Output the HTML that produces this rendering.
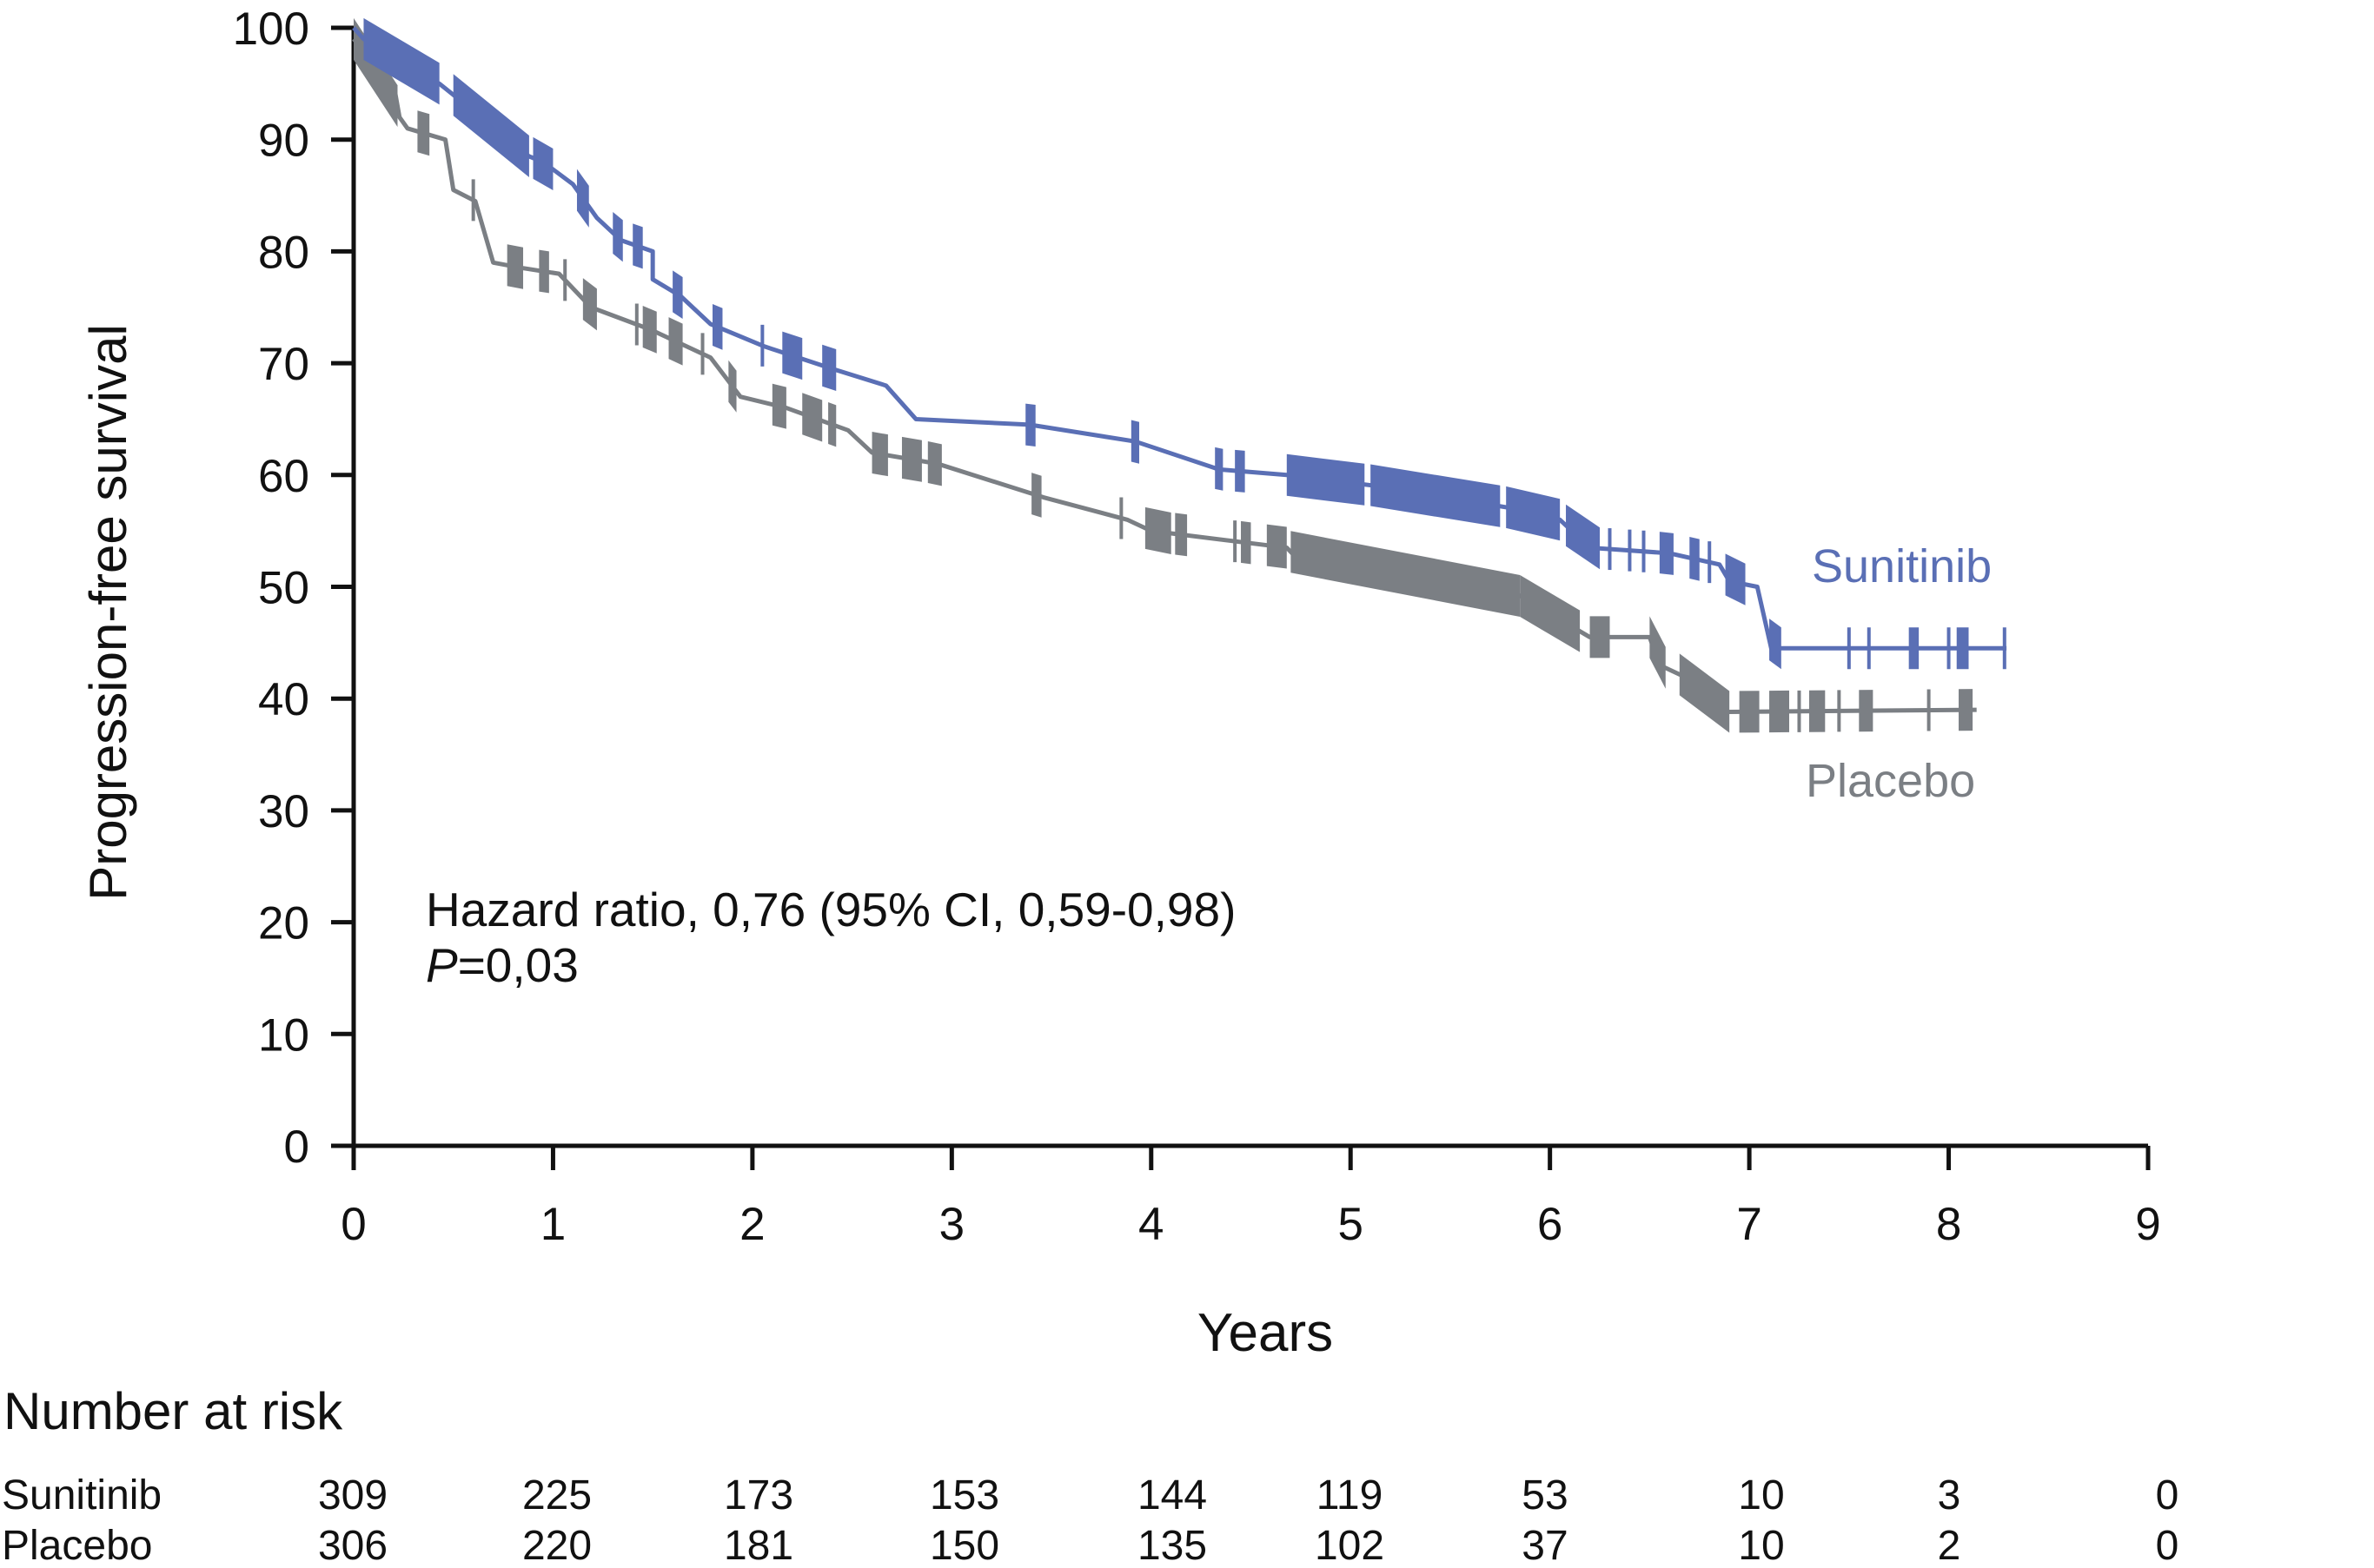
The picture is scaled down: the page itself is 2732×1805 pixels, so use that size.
<!DOCTYPE html>
<html><head><meta charset="utf-8"><style>
html,body{margin:0;padding:0;background:#fff;}
svg{display:block;font-family:"Liberation Sans",Arial,sans-serif;}
</style></head><body>
<svg id="chart" width="2732" height="1805" viewBox="0 0 2732 1805" xmlns="http://www.w3.org/2000/svg">
<g id="axes"></g>
<g id="series"></g>
<text x="0" y="0" transform="translate(145,705) rotate(-90)" text-anchor="middle" font-size="60" fill="#111">Progression-free survival</text>
<text x="1456" y="1555" text-anchor="middle" font-size="62" fill="#111">Years</text>
<text x="490" y="1066" font-size="55" fill="#111">Hazard ratio, 0,76 (95% CI, 0,59-0,98)</text>
<text x="490" y="1130" font-size="55" fill="#111"><tspan font-style="italic">P</tspan>=0,03</text>
<text x="2085" y="670" font-size="54" fill="#5a6fb5">Sunitinib</text>
<text x="2078" y="917" font-size="54" fill="#7b7f84">Placebo</text>
<text x="4" y="1645" font-size="60" fill="#111">Number at risk</text>
<g id="risk"></g>
</svg>
<script>
const yTicks=[0,10,20,30,40,50,60,70,80,90,100];
const xTicks=[0,1,2,3,4,5,6,7,8,9];
const sunT=[0,0.05,0.43,0.5,0.88,0.95,1.1,1.22,1.34,1.5,1.5,1.64,1.79,2.06,2.4,2.67,2.82,3.39,3.92,4.34,4.68,5.14,5.82,6.05,6.2,6.6,6.85,6.9,7.04,7.11,8.29];
const sunS=[100,99,95,94,88.5,88,86,83,81,80,77.5,76,73.5,71.5,69.5,68,65,64.5,63,60.5,60,59,57,56,53.5,53,52,50.5,50,44.5,44.5];
const plaT=[0,0.05,0.2,0.23,0.27,0.46,0.5,0.61,0.7,0.85,1.03,1.19,1.49,1.79,1.94,2.17,2.48,2.6,2.93,3.46,3.88,4.0,4.68,4.76,5.82,6.2,6.5,6.55,6.67,6.83,8.14];
const plaS=[99,98,95,92,91,90,85.5,84.5,79,78.5,78,75,73,70.5,67,66,64,62,61,58,56,55,53.5,52,49.5,45.5,45.5,43,42,38.8,39];
const sunCens=[[0.05,0.43],[0.5,0.88],[0.9,1.0],[1.12,1.18],[1.3,1.35],[1.4,1.45],[1.6,1.65],[1.8,1.85],[2.15,2.25],[2.35,2.42],[3.37,3.42],[3.9,3.94],[4.32,4.36],[4.42,4.47],[4.68,5.07],[5.1,5.75],[5.78,6.05],[6.08,6.25],[6.55,6.62],[6.7,6.75],[6.88,6.98],[7.1,7.16],[7.8,7.85],[8.04,8.1]];
const sunTicks=[2.05,6.3,6.4,6.47,6.8,7.5,7.6,8.0,8.28];
const plaCens=[[0,0.22],[0.32,0.38],[0.77,0.85],[0.93,0.98],[1.15,1.22],[1.45,1.52],[1.58,1.65],[1.88,1.92],[2.1,2.17],[2.25,2.35],[2.38,2.42],[2.6,2.68],[2.75,2.85],[2.88,2.95],[3.4,3.45],[3.97,4.1],[4.12,4.18],[4.45,4.5],[4.58,4.68],[4.7,5.85],[5.85,6.15],[6.2,6.3],[6.5,6.58],[6.65,6.9],[6.95,7.05],[7.1,7.2],[7.3,7.38],[7.55,7.62],[8.05,8.12]];
const plaTicks=[0.6,1.06,1.42,1.75,3.85,4.42,7.25,7.45,7.9];
const riskYears=[0,1,2,3,4,5,6,7,8,9];
const riskSun=[309,225,173,153,144,119,53,10,3,0];
const riskPla=[306,220,181,150,135,102,37,10,2,0];
const riskX=[406,641,873,1110,1349,1553,1778,2027,2243,2494];

const X0=407,X9=2472,Y0=1319,Y100=32;
const sx=t=>X0+(X9-X0)*t/9;
const sy=v=>Y0-(Y0-Y100)*v/100;
const NS="http://www.w3.org/2000/svg";
function mk(tag,attrs,parent){const e=document.createElementNS(NS,tag);for(const k in attrs)e.setAttribute(k,attrs[k]);parent.appendChild(e);return e;}
const axes=document.getElementById('axes');
let a=mk('line',{x1:X0,y1:Y100,x2:X0,y2:Y0+2,stroke:'#111','stroke-width':5},axes);


a=mk('line',{x1:X0,y1:Y0,x2:X9,y2:Y0,stroke:'#111','stroke-width':5},axes);


yTicks.forEach(v=>{
 const l=mk('line',{x1:X0-26,y1:sy(v),x2:X0,y2:sy(v),stroke:'#111','stroke-width':5},axes);
 
 
 const t=mk('text',{x:356,y:sy(v)+19,'text-anchor':'end','font-size':53,fill:'#111'},axes);
 t.textContent=v;
 
 
});
xTicks.forEach(v=>{
 const l=mk('line',{x1:sx(v),y1:Y0,x2:sx(v),y2:Y0+28,stroke:'#111','stroke-width':5},axes);
 
 
 const t=mk('text',{x:sx(v),y:1427,'text-anchor':'middle','font-size':53,fill:'#111'},axes);
 t.textContent=v;
 
 
});
function interp(T,S,t){
 if(t<=T[0])return S[0];
 for(let i=1;i<T.length;i++){if(t<=T[i]){const d=T[i]-T[i-1];return d<=0?S[i]:S[i-1]+(S[i]-S[i-1])*(t-T[i-1])/d;}}
 return S[S.length-1];
}
const series=document.getElementById('series');
function drawSeries(T,S,cens,ticks,color,name,h){
 const g=mk('g',{},series);
 
 
 const p=mk('polyline',{points:T.map((t,i)=>sx(t)+','+sy(S[i])).join(' '),fill:'none',stroke:color,'stroke-width':5,'stroke-linejoin':'round'},g);
 
 
 cens.forEach(c=>{
  const a0=c[0],a1=c[1];
  const xa=sx(a0),xb=Math.max(sx(a1),sx(a0)+9);
  const ya=sy(interp(T,S,a0)),yb=sy(interp(T,S,a1));
  const poly=mk('polygon',{points:`${xa},${ya-h} ${xb},${yb-h} ${xb},${yb+h} ${xa},${ya+h}`,fill:color},g);
  
  
 });
 ticks.forEach(t=>{
  const y=sy(interp(T,S,t));
  const l=mk('line',{x1:sx(t),y1:y-h,x2:sx(t),y2:y+h,stroke:color,'stroke-width':4},g);
  
  
 });
}
drawSeries(plaT,plaS,plaCens,plaTicks,'#7b7f84','placebo',24);
drawSeries(sunT,sunS,sunCens,sunTicks,'#5a6fb5','sunitinib',24);
const risk=document.getElementById('risk');
function row(label,vals,y,name){
 const t=mk('text',{x:2,y:y,'font-size':48,fill:'#111'},risk);
 t.textContent=label;
 
 
 vals.forEach((v,i)=>{
  const n=mk('text',{x:riskX[i],y:y,'text-anchor':'middle','font-size':48,fill:'#111'},risk);
  n.textContent=v;
  
  
 });
}
row('Sunitinib',riskSun,1737,'sunitinib');
row('Placebo',riskPla,1795,'placebo');
</script>
</body></html>
